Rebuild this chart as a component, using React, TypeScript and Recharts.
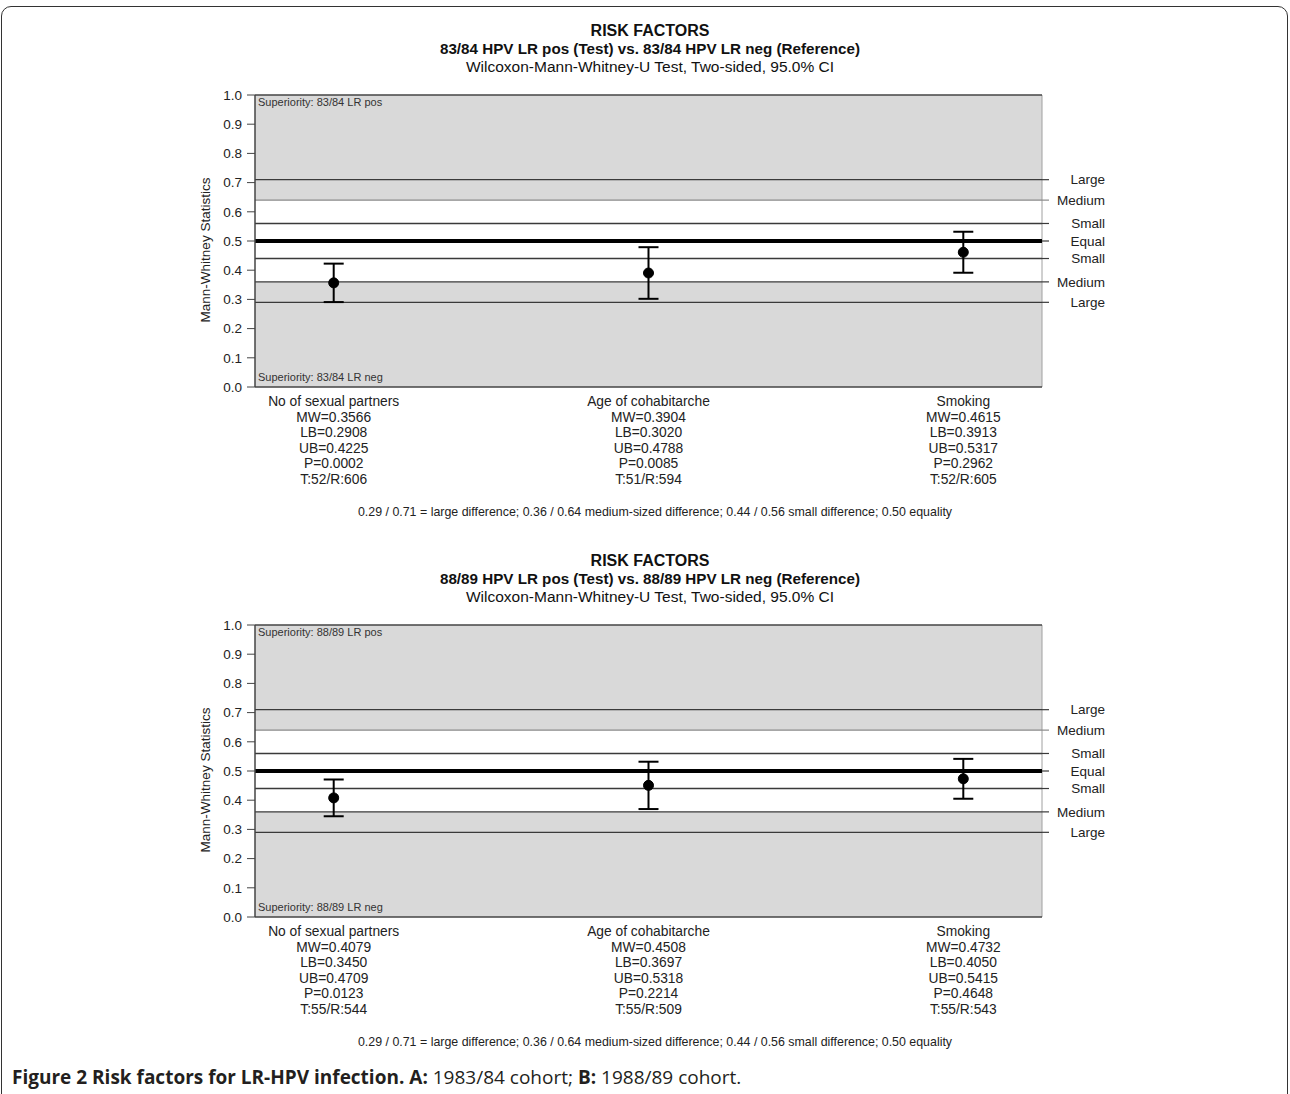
import React from "react";
import { ComposedChart, XAxis, YAxis, Line, ErrorBar, ReferenceArea, ReferenceLine } from "recharts";

const categories = ["No of sexual partners", "Age of cohabitarche", "Smoking"];

const mwA = [0.3566, 0.3904, 0.4615];
const lbA = [0.2908, 0.302, 0.3913];
const ubA = [0.4225, 0.4788, 0.5317];
const pA = ["0.0002", "0.0085", "0.2962"];
const nA = ["T:52/R:606", "T:51/R:594", "T:52/R:605"];

const mwB = [0.4079, 0.4508, 0.4732];
const lbB = [0.345, 0.3697, 0.405];
const ubB = [0.4709, 0.5318, 0.5415];
const pB = ["0.0123", "0.2214", "0.4648"];
const nB = ["T:55/R:544", "T:55/R:509", "T:55/R:543"];

const yTicks = [0, 0.1, 0.2, 0.3, 0.4, 0.5, 0.6, 0.7, 0.8, 0.9, 1.0];
const thresholdValues = [0.29, 0.36, 0.44, 0.5, 0.56, 0.64, 0.71];
const thresholdLabels = ["Large", "Medium", "Small", "Equal", "Small", "Medium", "Large"];

const FONT = "'Liberation Sans', Arial, sans-serif";
const X_DOMAIN: [number, number] = [-0.25, 2.25];

function buildRows(mw: number[], lb: number[], ub: number[], p: string[], n: string[]) {
  return categories.map((name, i) => ({
    idx: i,
    name,
    mw: mw[i],
    lb: lb[i],
    ub: ub[i],
    p: p[i],
    n: n[i],
    err: [mw[i] - lb[i], ub[i] - mw[i]],
  }));
}

const rowsA = buildRows(mwA, lbA, ubA, pA, nA);
const rowsB = buildRows(mwB, lbB, ubB, pB, nB);

function CatTick(props: any) {
  const { x, y, payload, rows } = props;
  const r = rows[Math.round(payload.value)];
  if (!r) return null;
  const lines = [
    r.name,
    "MW=" + r.mw.toFixed(4),
    "LB=" + r.lb.toFixed(4),
    "UB=" + r.ub.toFixed(4),
    "P=" + r.p,
    r.n,
  ];
  return (
    <g>
      {lines.map((t, i) => (
        <text key={i} x={x} y={y + 19 + i * 15.5} textAnchor="middle" fontSize={13.8} fill="#222" fontFamily={FONT}>
          {t}
        </text>
      ))}
    </g>
  );
}

function ThreshLabel(props: any) {
  const { viewBox, text, color } = props;
  const xr = viewBox.x + viewBox.width;
  const y = viewBox.y;
  return (
    <g>
      <line x1={xr} y1={y} x2={xr + 7} y2={y} stroke={color} strokeWidth={1.2} />
      <text x={xr + 63} y={y + 4.8} textAnchor="end" fontSize={13.5} fill="#222" fontFamily={FONT}>
        {text}
      </text>
    </g>
  );
}

function YLabel(props: any) {
  const { viewBox } = props;
  const cx = viewBox.x + 10;
  const cy = viewBox.y + viewBox.height / 2 + 9;
  return (
    <text x={cx} y={cy} transform={`rotate(-90 ${cx} ${cy})`} textAnchor="middle" dominantBaseline="central" fontSize={13.5} fill="#222" fontFamily={FONT}>
      Mann-Whitney Statistics
    </text>
  );
}

function SupLabel(props: any) {
  const { viewBox, text, bottom } = props;
  const y = bottom ? viewBox.y + viewBox.height - 6.5 : viewBox.y + 11;
  return (
    <text x={viewBox.x + 3} y={y} fontSize={11} fill="#333" fontFamily={FONT}>
      {text}
    </text>
  );
}

function lineColor(v: number) {
  if (v === 0.5) return "#000";
  if (v === 0.64) return "#8a8a8a";
  return "#3a3a3a";
}

function Panel({ top, cohort, rows }: { top: number; cohort: string; rows: any[] }) {
  return (
    <div style={{ position: "absolute", left: 0, top, width: 1290, height: 530 }}>
      <div style={{ position: "absolute", left: 5, top: 22, width: 1290, textAlign: "center", fontFamily: FONT, fontSize: 15.5, lineHeight: "18px", color: "#111" }}>
        <div style={{ fontWeight: "bold", fontSize: 16 }}>RISK FACTORS</div>
        <div style={{ fontWeight: "bold", fontSize: 15.2 }}>{`${cohort} HPV LR pos (Test) vs. ${cohort} HPV LR neg (Reference)`}</div>
        <div>Wilcoxon-Mann-Whitney-U Test, Two-sided, 95.0% CI</div>
      </div>
      <div style={{ position: "absolute", left: 0, top: 0 }}>
        <ComposedChart width={1290} height={530} data={rows} margin={{ top: 95, left: 195, right: 248, bottom: 33 }}>
          <ReferenceArea y1={0} y2={0.36} fill="#d9d9d9" fillOpacity={1} stroke="none" label={<SupLabel text={`Superiority: ${cohort} LR neg`} bottom />} />
          <ReferenceArea y1={0.64} y2={1} fill="#d9d9d9" fillOpacity={1} stroke="none" label={<SupLabel text={`Superiority: ${cohort} LR pos`} />} />
          <ReferenceLine x={X_DOMAIN[1]} stroke="#a0a0a0" strokeWidth={1} />
          {thresholdValues.map((v, i) => (
            <ReferenceLine
              key={v}
              y={v}
              stroke={lineColor(v)}
              strokeWidth={v === 0.5 ? 4 : 1.3}
              label={<ThreshLabel text={thresholdLabels[i]} color={v === 0.64 ? "#8a8a8a" : "#3a3a3a"} />}
            />
          ))}
          <ReferenceLine y={1} stroke="#444" strokeWidth={1.3} />
          <XAxis
            dataKey="idx"
            type="number"
            domain={X_DOMAIN}
            ticks={[0, 1, 2]}
            interval={0}
            tickLine={false}
            tickSize={0}
            tickMargin={0}
            axisLine={{ stroke: "#444", strokeWidth: 1.3 }}
            tick={<CatTick rows={rows} />}
            height={110}
          />
          <YAxis
            type="number"
            domain={[0, 1]}
            ticks={yTicks}
            interval={0}
            width={60}
            tickSize={8}
            tickMargin={5}
            tickLine={{ stroke: "#444" }}
            axisLine={{ stroke: "#444", strokeWidth: 1.5 }}
            tick={{ fontSize: 13.5, fill: "#222", fontFamily: FONT }}
            tickFormatter={(v: number) => v.toFixed(1)}
            label={<YLabel />}
          />
          <Line
            dataKey="mw"
            stroke="none"
            isAnimationActive={false}
            dot={{ r: 5, fill: "#000", stroke: "#000", strokeWidth: 1 }}
            activeDot={false}
          >
            <ErrorBar dataKey="err" direction="y" width={10} strokeWidth={2} stroke="#000" />
          </Line>
        </ComposedChart>
      </div>
      <div style={{ position: "absolute", left: 0, top: 505, width: 1310, textAlign: "center", fontFamily: FONT, fontSize: 12.4, lineHeight: "15px", color: "#222" }}>
        0.29 / 0.71 = large difference; 0.36 / 0.64 medium-sized difference; 0.44 / 0.56 small difference; 0.50 equality
      </div>
    </div>
  );
}

export default function App() {
  return (
    <div style={{ position: "absolute", left: 0, top: 0, width: 1290, height: 1094, overflow: "hidden", background: "#fff" }}>
      <div style={{ position: "absolute", left: 1, top: 6, width: 1285, height: 1110, border: "1.5px solid #333", borderRadius: 10 }} />
      <Panel top={0} cohort="83/84" rows={rowsA} />
      <Panel top={530} cohort="88/89" rows={rowsB} />
      <div style={{ position: "absolute", left: 12, top: 1064, fontFamily: "'Open Sans', sans-serif", fontSize: 19, lineHeight: "26px", color: "#231f20" }}>
        <b>Figure 2 Risk factors for LR-HPV infection. A:</b> 1983/84 cohort; <b>B:</b> 1988/89 cohort.
      </div>
    </div>
  );
}
